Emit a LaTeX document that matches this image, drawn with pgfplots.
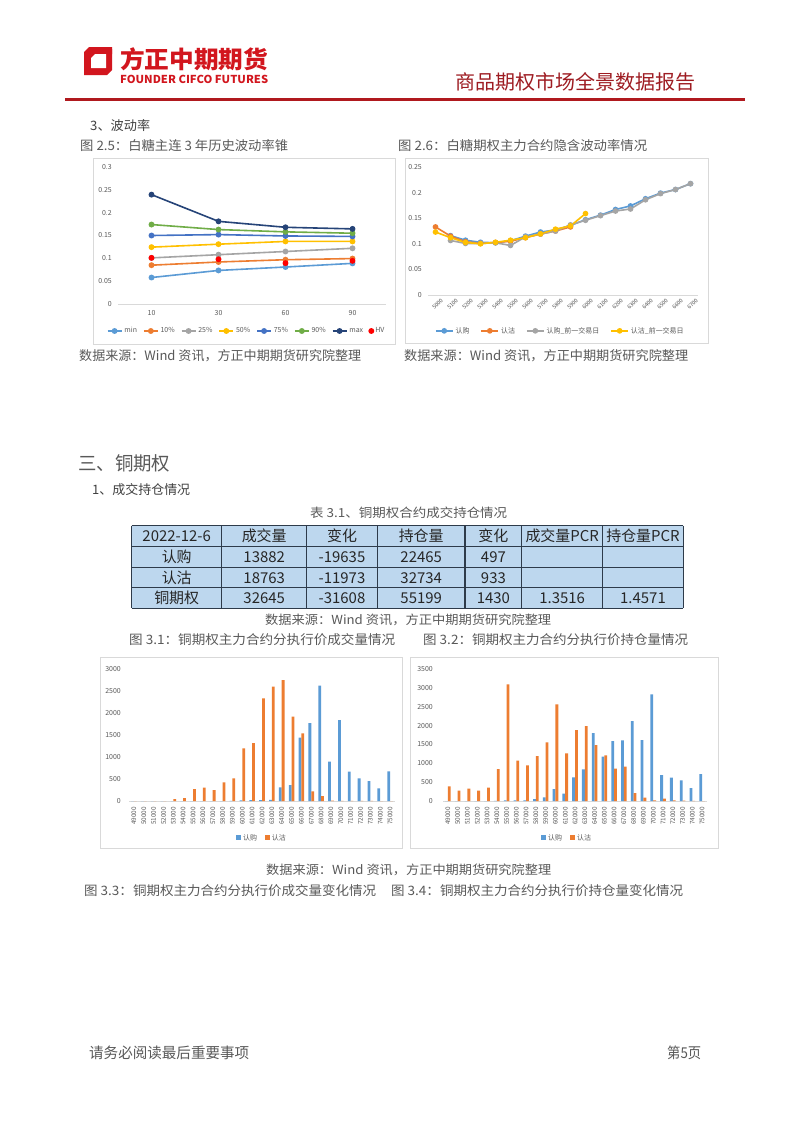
\documentclass[border=0pt]{standalone}
\usepackage{fontspec}
\setmainfont{Noto Sans CJK SC}
\usepackage{graphicx}
\usepackage{pgfplots}
\pgfplotsset{compat=1.18}

\definecolor{xblue}{HTML}{5B9BD5}
\definecolor{xorange}{HTML}{ED7D31}
\definecolor{xgray}{HTML}{A5A5A5}
\definecolor{xgold}{HTML}{FFC000}
\definecolor{xblue2}{HTML}{4472C4}
\definecolor{xgreen}{HTML}{70AD47}
\definecolor{xnavy}{HTML}{264478}
\definecolor{logored}{HTML}{D2161E}
\definecolor{hdrred}{HTML}{9E1C22}
\definecolor{rulered}{HTML}{B0191E}
\definecolor{txtgray}{HTML}{595959}
\definecolor{bodytxt}{HTML}{404040}
\definecolor{axgray}{HTML}{D9D9D9}
\definecolor{framegray}{HTML}{D9D9D9}
\definecolor{tblfill}{HTML}{BDD7EE}
\definecolor{tblline}{HTML}{2E3B4A}

\newcommand\txt[6]{\node[anchor=west,inner sep=0pt,text=#4] at (#1,#2) {\resizebox{#3bp}{\height}{\fontsize{#5}{#5}\selectfont #6}};}
\newcommand\cell[3]{\node[inner sep=0pt,text=black!85] at (#1,#2) {\fontsize{15}{15}\selectfont #3};}

\pgfplotsset{
  commonax/.style={scale only axis, clip=false, axis lines*=left,
    x axis line style={draw=axgray, line width=0.8bp}, y axis line style={draw=none},
    tick style={draw=none}, major tick length=0pt,
    tick label style={font=\fontsize{7}{7}\selectfont, text=txtgray, inner sep=0pt},
    legend style={draw=none, fill=none, font=\fontsize{7}{7}\selectfont, text=txtgray,
      legend columns=-1, /tikz/every even column/.append style={column sep=6bp}, inner sep=0pt},
  },
}

\begin{document}
\begin{tikzpicture}
\begin{scope}[x=1bp,y=-1bp]
\fill[white] (0,0) rectangle (802,1133);
% ---- header ----
\fill[logored] (89,47) -- (112,47) -- (112,70) -- (107,75) -- (84,75) -- (84,52) -- cycle;
\fill[white] (95,54) -- (106,54) -- (106,68) -- (91,68) -- (91,58) -- cycle;
\fill[logored] (106,54) -- (112,49) -- (112,54) -- cycle;
\node[anchor=west,inner sep=0pt,text=logored] at (120,59) {\resizebox{148bp}{\height}{\fontsize{24}{24}\selectfont\bfseries 方正中期期货}};
\node[anchor=west,inner sep=0pt,text=logored] at (120,79) {\resizebox{148bp}{\height}{\fontsize{11}{11}\selectfont\bfseries FOUNDER CIFCO FUTURES}};
\txt{455}{82}{240}{hdrred}{20}{商品期权市场全景数据报告}
\draw[rulered, line width=3bp] (65,99) -- (745,99);
% ---- texts ----
\txt{90}{126}{60}{bodytxt}{13}{3、波动率}
\txt{80}{146}{208}{txtgray}{13}{图 2.5：白糖主连 3 年历史波动率锥}
\txt{398}{146}{249}{txtgray}{13}{图 2.6：白糖期权主力合约隐含波动率情况}
\txt{79}{356}{282}{txtgray}{13}{数据来源：Wind 资讯，方正中期期货研究院整理}
\txt{404}{356}{284}{txtgray}{13}{数据来源：Wind 资讯，方正中期期货研究院整理}
\txt{78}{463}{92}{txtgray}{19}{三、铜期权}
\txt{92}{490}{98}{bodytxt}{13}{1、成交持仓情况}
\txt{310}{513}{197}{txtgray}{12.5}{表 3.1、铜期权合约成交持仓情况}
\txt{265}{620}{286}{txtgray}{12.5}{数据来源：Wind 资讯，方正中期期货研究院整理}
\txt{129}{640}{266}{txtgray}{13}{图 3.1：铜期权主力合约分执行价成交量情况}
\txt{423}{640}{265}{txtgray}{13}{图 3.2：铜期权主力合约分执行价持仓量情况}
\txt{266}{870}{285}{txtgray}{12.5}{数据来源：Wind 资讯，方正中期期货研究院整理}
\txt{84}{891}{292}{txtgray}{13}{图 3.3：铜期权主力合约分执行价成交量变化情况}
\txt{391}{891}{292}{txtgray}{13}{图 3.4：铜期权主力合约分执行价持仓量变化情况}
\txt{89}{1053}{160}{txtgray}{15}{请务必阅读最后重要事项}
\txt{667}{1053}{34}{txtgray}{15}{第5页}
% ---- frames ----
\draw[framegray, line width=0.7bp] (93,158) rectangle (395,344);
\draw[framegray, line width=0.7bp] (405,158) rectangle (708,343);
\draw[framegray, line width=0.7bp] (100,657) rectangle (402,848);
\draw[framegray, line width=0.7bp] (410,657) rectangle (718,848);
% ---- table ----
\fill[tblfill] (131.7,525.7) rectangle (683.3,608.3);
\foreach \yy in {525.7,546.7,567.7,587.7,608.3} {\draw[tblline, line width=1.2bp] (131.7,\yy) -- (683.3,\yy);}
\foreach \xx in {131.7,221.7,306.7,377.3,465,521.7,602.7,683.3} {\draw[tblline, line width=1.2bp] (\xx,525.7) -- (\xx,608.3);}
\cell{176.7}{536.2}{2022-12-6}\cell{264.2}{536.2}{成交量}\cell{342}{536.2}{变化}\cell{421.2}{536.2}{持仓量}\cell{493.4}{536.2}{变化}\cell{562.2}{536.2}{成交量PCR}\cell{643}{536.2}{持仓量PCR}
\cell{176.7}{557.2}{认购}\cell{264.2}{557.2}{13882}\cell{342}{557.2}{-19635}\cell{421.2}{557.2}{22465}\cell{493.4}{557.2}{497}
\cell{176.7}{577.7}{认沽}\cell{264.2}{577.7}{18763}\cell{342}{577.7}{-11973}\cell{421.2}{577.7}{32734}\cell{493.4}{577.7}{933}
\cell{176.7}{598}{铜期权}\cell{264.2}{598}{32645}\cell{342}{598}{-31608}\cell{421.2}{598}{55199}\cell{493.4}{598}{1430}\cell{562.2}{598}{1.3516}\cell{643}{598}{1.4571}
\end{scope}

% ---- Chart 2.5 ----
\begin{axis}[commonax, at={(118bp,-304bp)}, anchor=south west, width=268bp, height=137bp,
  xmin=-0.5, xmax=3.5, ymin=0, ymax=0.3,
  xtick={0,1,2,3}, xticklabels={10,30,60,90},
  ytick={0,0.05,0.1,0.15,0.2,0.25,0.3}, yticklabels={0,0.05,0.1,0.15,0.2,0.25,0.3},
  yticklabel style={anchor=east, xshift=-6bp},
  xticklabel style={anchor=north, yshift=-6bp},
  every axis plot/.append style={line width=1.6bp, mark=*, mark size=2.1bp},
  legend style={at={(0.48,-0.197)}, anchor=center, /tikz/every even column/.append style={column sep=4bp}},
  legend image code/.code={\draw[mark repeat=2,mark phase=2,#1] plot coordinates {(0bp,0bp)(7bp,0bp)(14bp,0bp)};},
]
\addplot[xblue] coordinates {(0,0.058)(1,0.0735)(2,0.081)(3,0.089)}; \addlegendentry{min}
\addplot[xorange] coordinates {(0,0.085)(1,0.092)(2,0.097)(3,0.0995)}; \addlegendentry{10\%}
\addplot[xgray] coordinates {(0,0.101)(1,0.108)(2,0.115)(3,0.122)}; \addlegendentry{25\%}
\addplot[xgold] coordinates {(0,0.1245)(1,0.131)(2,0.137)(3,0.137)}; \addlegendentry{50\%}
\addplot[xblue2] coordinates {(0,0.150)(1,0.152)(2,0.149)(3,0.148)}; \addlegendentry{75\%}
\addplot[xgreen] coordinates {(0,0.174)(1,0.163)(2,0.158)(3,0.155)}; \addlegendentry{90\%}
\addplot[xnavy] coordinates {(0,0.2395)(1,0.181)(2,0.168)(3,0.1645)}; \addlegendentry{max}
\addplot[red, only marks] coordinates {(0,0.101)(1,0.098)(2,0.0895)(3,0.0946)}; \addlegendentry{HV}
\end{axis}

% ---- Chart 2.6 ----
\begin{axis}[commonax, at={(428bp,-295bp)}, anchor=south west, width=270bp, height=128bp,
  xmin=-0.5, xmax=17.5, ymin=0, ymax=0.25,
  xtick={0,...,17}, xticklabels={5000,5100,5200,5300,5400,5500,5600,5700,5800,5900,6000,6100,6200,6300,6400,6500,6600,6700},
  ytick={0,0.05,0.1,0.15,0.2,0.25}, yticklabels={0,0.05,0.1,0.15,0.2,0.25},
  yticklabel style={anchor=east, xshift=-6bp},
  xticklabel style={font=\fontsize{5.6}{5.6}\selectfont, xshift=5bp, yshift=-3bp, rotate=45, anchor=north east},
  every axis plot/.append style={line width=1.6bp, mark=*, mark size=2bp},
  legend style={at={(0.49,-0.28)}, anchor=center, /tikz/every even column/.append style={column sep=9bp}},
]
\addplot[xblue] coordinates {(1,0.116)(2,0.107)(3,0.103)(4,0.102)(5,0.106)(6,0.115)(7,0.123)(8,0.127)(9,0.136)(10,0.147)(11,0.156)(12,0.167)(13,0.174)(14,0.188)(15,0.199)(16,0.206)(17,0.2175)}; \addlegendentry{认购}
\addplot[xorange] coordinates {(0,0.133)(1,0.115)(2,0.104)(3,0.101)(4,0.1026)(5,0.105)(6,0.112)(7,0.119)(8,0.125)(9,0.133)}; \addlegendentry{认沽}
\addplot[xgray] coordinates {(1,0.1065)(2,0.1007)(3,0.1007)(4,0.102)(5,0.0968)(6,0.1136)(7,0.119)(8,0.125)(9,0.137)(10,0.146)(11,0.155)(12,0.164)(13,0.168)(14,0.186)(15,0.198)(16,0.206)(17,0.2175)}; \addlegendentry{认购\_前一交易日}
\addplot[xgold] coordinates {(0,0.123)(1,0.112)(2,0.1026)(3,0.100)(4,0.103)(5,0.107)(6,0.112)(7,0.1195)(8,0.1286)(9,0.135)(10,0.159)}; \addlegendentry{认沽\_前一交易日}
\end{axis}

% ---- Chart 3.1 ----
\begin{axis}[commonax, at={(129bp,-801bp)}, anchor=south west, width=266bp, height=132bp,
  xmin=-0.5, xmax=26.5, ymin=0, ymax=3000,
  ybar=0pt, bar width=2.8bp,
  xtick={0,...,26}, xticklabels={49000,50000,51000,52000,53000,54000,55000,56000,57000,58000,59000,60000,61000,62000,63000,64000,65000,66000,67000,68000,69000,70000,71000,72000,73000,74000,75000},
  ytick={0,500,1000,1500,2000,2500,3000}, yticklabels={0,500,1000,1500,2000,2500,3000},
  yticklabel style={anchor=east, xshift=-8bp},
  xticklabel style={font=\fontsize{6.4}{6.4}\selectfont, yshift=-6bp, rotate=90, anchor=east},
  legend style={at={(0.5,-0.28)}, anchor=center},
  legend image code/.code={\fill[#1] (0bp,-2.5bp) rectangle (5bp,2.5bp);},
]
\addplot[fill=xblue, draw=none] coordinates {(0,0)(1,0)(2,0)(3,0)(4,0)(5,0)(6,0)(7,0)(8,0)(9,0)(10,5)(11,15)(12,20)(13,20)(14,25)(15,311)(16,364)(17,1439)(18,1773)(19,2621)(20,894)(21,1841)(22,667)(23,515)(24,455)(25,288)(26,674)}; \addlegendentry{认购}
\addplot[fill=xorange, draw=none] coordinates {(0,0)(1,0)(2,0)(3,0)(4,45)(5,68)(6,273)(7,303)(8,250)(9,424)(10,515)(11,1197)(12,1318)(13,2333)(14,2598)(15,2750)(16,1917)(17,1538)(18,220)(19,114)(20,10)(21,5)(22,3)(23,5)(24,2)(25,0)(26,0)}; \addlegendentry{认沽}
\end{axis}

% ---- Chart 3.2 ----
\begin{axis}[commonax, at={(443bp,-801bp)}, anchor=south west, width=264bp, height=132bp,
  xmin=-0.5, xmax=26.5, ymin=0, ymax=3500,
  ybar=0pt, bar width=2.8bp,
  xtick={0,...,26}, xticklabels={49000,50000,51000,52000,53000,54000,55000,56000,57000,58000,59000,60000,61000,62000,63000,64000,65000,66000,67000,68000,69000,70000,71000,72000,73000,74000,75000},
  ytick={0,500,1000,1500,2000,2500,3000,3500}, yticklabels={0,500,1000,1500,2000,2500,3000,3500},
  yticklabel style={anchor=east, xshift=-10bp},
  xticklabel style={font=\fontsize{6.4}{6.4}\selectfont, yshift=-6bp, rotate=90, anchor=east},
  legend style={at={(0.47,-0.28)}, anchor=center},
  legend image code/.code={\fill[#1] (0bp,-2.5bp) rectangle (5bp,2.5bp);},
]
\addplot[fill=xblue, draw=none] coordinates {(0,0)(1,0)(2,0)(3,0)(4,0)(5,5)(6,20)(7,15)(8,20)(9,53)(10,97)(11,318)(12,194)(13,627)(14,840)(15,1803)(16,1175)(17,1591)(18,1609)(19,2121)(20,1617)(21,2828)(22,689)(23,619)(24,548)(25,345)(26,716)}; \addlegendentry{认购}
\addplot[fill=xorange, draw=none] coordinates {(0,389)(1,274)(2,327)(3,274)(4,354)(5,848)(6,3093)(7,1069)(8,946)(9,1193)(10,1555)(11,2563)(12,1264)(13,1883)(14,1989)(15,1485)(16,1211)(17,857)(18,910)(19,212)(20,88)(21,18)(22,62)(23,18)(24,10)(25,5)(26,0)}; \addlegendentry{认沽}
\end{axis}
\end{tikzpicture}
\end{document}
